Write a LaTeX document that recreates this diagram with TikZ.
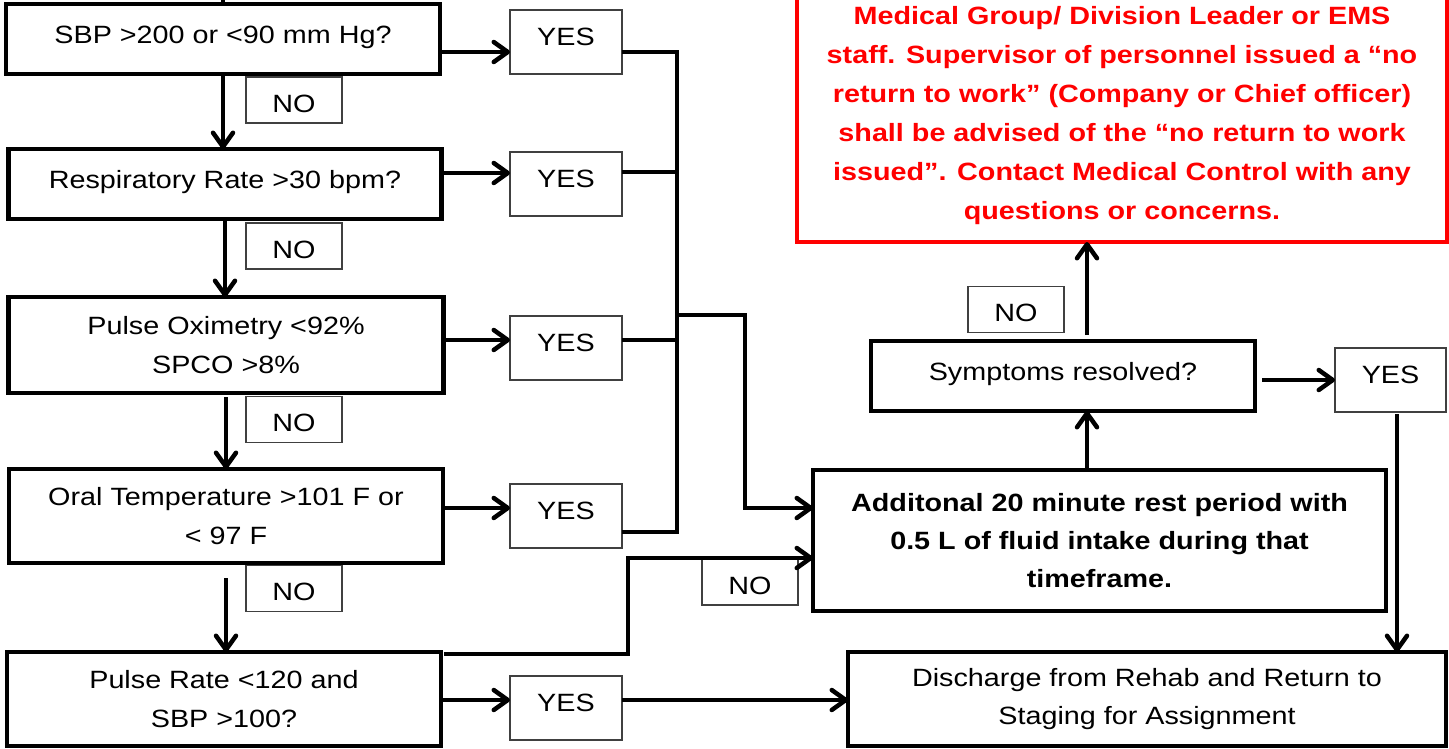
\documentclass[tikz,border=0pt]{standalone}
\usepackage{fontspec}
\setmainfont{Liberation Sans}[FakeStretch=1.15]
\usetikzlibrary{arrows.meta}
\definecolor{ired}{HTML}{FF0000}
\definecolor{lbl}{HTML}{404040}
\begin{document}
\begin{tikzpicture}[x=1pt,y=-1pt,
  every node/.style={font=\fontsize{25}{38.5}\selectfont, inner sep=0pt, outer sep=0pt},
  bigbox/.style={draw=black, line width=4.5pt, align=center},
  oneline/.style={text height=18pt, text depth=10pt},
  labelyes/.style={draw=lbl, line width=1.3pt, minimum width=112pt, minimum height=64pt, text height=18pt, text depth=12pt},
  labelno/.style={draw=lbl, line width=1.3pt, minimum width=96pt, minimum height=46pt, text height=24pt, text depth=0pt},
  conn/.style={line width=4pt, line join=miter},
  arr/.style={conn, -{Straight Barb[length=14pt,width=20pt,line width=4.5pt,round]}}]
\fill[white] (0,0) rectangle (1449,748);
\useasboundingbox (0,0) rectangle (1449,748);
\clip (0,0) rectangle (1449,748);

% left column decision boxes
\node[bigbox, oneline, minimum width=434pt, minimum height=70pt] (sbp) at (223,39) {SBP >200 or <90 mm Hg?};
\node[bigbox, oneline, minimum width=433pt, minimum height=70pt] (resp) at (225,184) {Respiratory Rate >30 bpm?};
\node[bigbox, minimum width=435pt, minimum height=96pt] (pox) at (226,345) {Pulse Oximetry <92\%\\SPCO >8\%};
\node[bigbox, minimum width=434pt, minimum height=94pt] (oral) at (226,516) {Oral Temperature >101 F or\\< 97 F};
\node[bigbox, minimum width=434pt, minimum height=94pt] (prate) at (224,699) {Pulse Rate <120 and\\SBP >100?};

% labels
\node[labelyes] (yes1) at (566,42) {YES};
\node[labelyes] (yes2) at (566,184) {YES};
\node[labelyes] (yes3) at (566,348) {YES};
\node[labelyes] (yes4) at (566,516) {YES};
\node[labelyes] (yes5) at (566,708) {YES};
\node[labelyes, minimum width=111pt] (yes6) at (1390.5,380) {YES};
\node[labelno] (no1) at (294,100) {NO};
\node[labelno] (no2) at (294,246) {NO};
\node[labelno] (no3) at (294,419.5) {NO};
\node[labelno] (no4) at (294,588.5) {NO};
\node[labelno] (no5) at (750,582) {NO};
\node[labelno] (no6) at (1016,309.5) {NO};

% right side boxes
\node[draw=ired, line width=4pt, text=ired, align=center,
      font=\fontsize{25}{39}\selectfont\bfseries,
      minimum width=650pt, minimum height=253pt] (warn) at (1122,115.5)
  {Medical Group/ Division Leader or EMS\\staff. Supervisor of personnel issued a “no\\return to work” (Company or Chief officer)\\shall be advised of the “no return to work\\issued”. Contact Medical Control with any\\questions or concerns.};
\node[bigbox, oneline, minimum width=384pt, minimum height=70pt] (sym) at (1063,376) {Symptoms resolved?};
\node[bigbox, font=\fontsize{25}{38}\selectfont\bfseries, minimum width=573pt, minimum height=141pt] (add) at (1099.5,540.5)
  {Additonal 20 minute rest period with\\0.5 L of fluid intake during that\\timeframe.};
\node[bigbox, minimum width=598pt, minimum height=94pt] (dis) at (1147,699)
  {Discharge from Rehab and Return to\\Staging for Assignment};

% coordinates for free ends and bends
\coordinate (top) at (223,-8);
\coordinate (ctop) at (677,52);
\coordinate (cbot) at (677,532);
\coordinate (cmid) at (677,315);
\coordinate (cbend) at (745,315);
\coordinate (pbend) at (628,558);

% vertical NO arrows
\draw[conn] (sbp.north) -- (top);
\draw[arr] (sbp.south) -- (sbp.south |- resp.north);
\draw[arr] (resp.south) -- (resp.south |- pox.north);
\draw[arr, shorten <=4pt] (pox.south) -- (pox.south |- oral.north);
\draw[arr, shorten <=15pt] (oral.south) -- (oral.south |- prate.north);

% YES arrows
\draw[arr, shorten <=2pt] ([yshift=-10pt]yes1.west -| sbp.east) -- ([yshift=-10pt]yes1.west);
\draw[arr, shorten <=2pt] ([yshift=11pt]yes2.west -| resp.east) -- ([yshift=11pt]yes2.west);
\draw[arr, shorten <=2pt] ([yshift=8pt]yes3.west -| pox.east) -- ([yshift=8pt]yes3.west);
\draw[arr, shorten <=2pt] ([yshift=8pt]yes4.west -| oral.east) -- ([yshift=8pt]yes4.west);
\draw[arr, shorten <=2pt] ([yshift=8pt]yes5.west -| prate.east) -- ([yshift=8pt]yes5.west);

% collector
\draw[conn] (yes1.east |- ctop) -- (ctop) -- (cbot) -- (yes4.east |- cbot);
\draw[conn] ([yshift=12pt]yes2.east) -- ([yshift=12pt]yes2.east -| ctop);
\draw[conn] ([yshift=8pt]yes3.east) -- ([yshift=8pt]yes3.east -| ctop);
\draw[arr] (cmid) -- (cbend) |- ([yshift=32.5pt]add.west);

% pulse rate NO path
\draw[arr] ([shift={(3pt,-2pt)}]prate.north east) -| (pbend) -- ([yshift=-17.5pt]add.west);

% YES5 to discharge
\draw[arr] ([yshift=8pt]yes5.east) -- ([yshift=8pt]yes5.east -| dis.west);

% right column
\draw[arr] ([xshift=24pt]sym.south |- add.north) -- ([xshift=24pt]sym.south);
\draw[arr, shorten <=6pt] ([xshift=24pt]sym.north) -- ([xshift=24pt]sym.north |- warn.south);
\draw[arr, shorten <=7pt] (sym.east |- yes6.west) -- (yes6.west);
\draw[arr, shorten <=2pt] ([xshift=6.5pt]yes6.south) -- ([xshift=6.5pt]yes6.south |- dis.north);
\end{tikzpicture}
\end{document}
